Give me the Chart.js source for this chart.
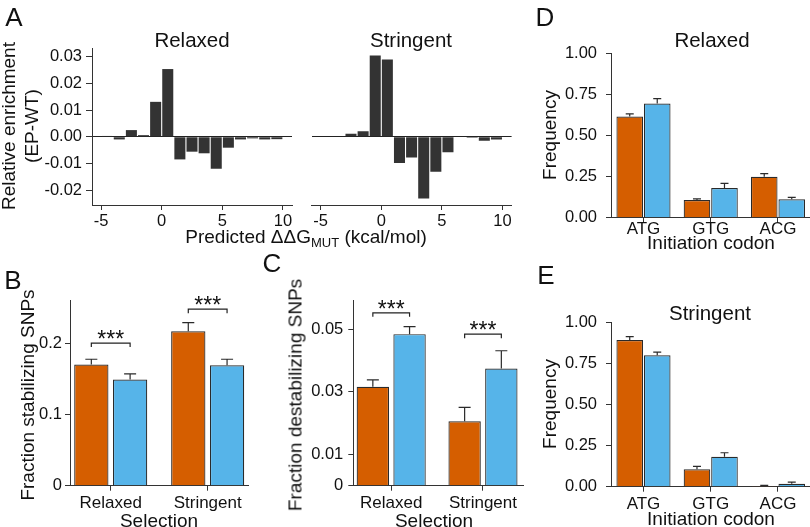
<!DOCTYPE html>
<html>
<head>
<meta charset="utf-8">
<script src="https://cdn.jsdelivr.net/npm/chart.js@4.4.1/dist/chart.umd.min.js"></script>
<style>
  body { margin: 0; background: #fff; }
  #fig { position: relative; width: 810px; height: 527px; overflow: hidden;
         font-family: "Liberation Sans", Arial, Helvetica, sans-serif; color: #111; }
  #fig canvas { position: absolute; left: 0; top: 0; }
  .t { position: absolute; white-space: nowrap; line-height: 1; transform: translate(-50%, -50%); }
  .rot { transform: translate(-50%, -50%) rotate(-90deg); }
  .let { font-size: 26px; }
  .ttl { font-size: 20.5px; }
  .ax { font-size: 19px; }
  sub { font-size: 13px; vertical-align: -4px; line-height: 0; }
</style>
</head>
<body>
<div id="fig">
  <canvas id="cAr" width="810" height="527"></canvas>
  <canvas id="cAs" width="810" height="527"></canvas>
  <canvas id="cB" width="810" height="527"></canvas>
  <canvas id="cC" width="810" height="527"></canvas>
  <canvas id="cD" width="810" height="527"></canvas>
  <canvas id="cE" width="810" height="527"></canvas>

  <div class="t let" style="left:14px;top:17px">A</div>
  <div class="t let" style="left:13px;top:280px">B</div>
  <div class="t let" style="left:272px;top:263px">C</div>
  <div class="t let" style="left:545px;top:17px">D</div>
  <div class="t let" style="left:546px;top:275px">E</div>

  <div class="t ttl" style="left:192px;top:40px">Relaxed</div>
  <div class="t ttl" style="left:411px;top:40px">Stringent</div>
  <div class="t ttl" style="left:712px;top:40px">Relaxed</div>
  <div class="t ttl" style="left:710px;top:313px">Stringent</div>

  <div class="t ax rot" style="left:20px;top:126px;line-height:22.5px;text-align:center">Relative enrichment<br>(EP-WT)</div>
  <div class="t ax" style="left:306px;top:236px">Predicted &Delta;&Delta;G<sub>MUT</sub> (kcal/mol)</div>
  <div class="t ax rot" style="left:27px;top:395px">Fraction stabilizing SNPs</div>
  <div class="t ax" style="left:159px;top:520px">Selection</div>
  <div class="t ax rot" style="left:295px;top:395px">Fraction destabilizing SNPs</div>
  <div class="t ax" style="left:434px;top:520px">Selection</div>
  <div class="t ax rot" style="left:549px;top:135px">Frequency</div>
  <div class="t ax" style="left:711px;top:242px">Initiation codon</div>
  <div class="t ax rot" style="left:549px;top:404px">Frequency</div>
  <div class="t ax" style="left:711px;top:518px">Initiation codon</div>
</div>

<script>
// ---- data ----
const ddgBins = [-4.5, -3.5, -2.5, -1.5, -0.5, 0.5, 1.5, 2.5, 3.5, 4.5, 5.5, 6.5, 7.5, 8.5, 9.5];
const enrichRelaxed = [0.0003, -0.001, 0.0025, 0.0006, 0.0131, 0.0254, -0.0085, -0.0056, -0.0062, -0.012, -0.0041, -0.001, -0.0006, -0.001, -0.0009];
const enrichStringent = [0.0002, 0, 0.0011, 0.0021, 0.0305, 0.029, -0.0098, -0.0078, -0.0232, -0.0131, -0.0058, 0, -0.0004, -0.0015, -0.001];
const ddgTicks = [-5, 0, 5, 10];
const enrichTicks = [-0.02, -0.01, 0, 0.01, 0.02, 0.03];

const selGroups = ['Relaxed', 'Stringent'];
const stabOrange = [0.170, 0.2166];
const stabOrangeHi = [0.1773, 0.2286];
const stabBlue = [0.149, 0.169];
const stabBlueHi = [0.1567, 0.1773];
const stabSig = [0.2, 0.2476];
const stabTicks = [0, 0.1, 0.2];

const destabOrange = [0.0316, 0.0206];
const destabOrangeHi = [0.0338, 0.025];
const destabBlue = [0.0484, 0.0374];
const destabBlueHi = [0.0508, 0.0431];
const destabSig = [0.0552, 0.0484];
const destabTicks = [0, 0.01, 0.03, 0.05];

const codons = ['ATG', 'GTG', 'ACG'];
const relOrange = [0.615, 0.1075, 0.249];
const relOrangeHi = [0.631, 0.114, 0.268];
const relBlue = [0.694, 0.18, 0.1116];
const relBlueHi = [0.724, 0.209, 0.124];
const strOrange = [0.894, 0.106, 0.004];
const strOrangeHi = [0.915, 0.124, 0.008];
const strBlue = [0.801, 0.183, 0.018];
const strBlueHi = [0.821, 0.207, 0.028];
const freqTicks = [0, 0.25, 0.5, 0.75, 1];

// ---- styling ----
const FONT = '"Liberation Sans", Arial, Helvetica, sans-serif';
const NUMFONT = { family: FONT, size: 16.5 };
const CATFONT = { family: FONT, size: 17 };
const AX = '#333';
const TXT = '#111';
const ORANGE = '#D55E00';
const BLUE = '#56B4E9';
const W = 810, H = 527, YW = 50, XH = 34;

function pad(a) {
  return { left: a.l - YW, top: a.t, right: W - a.r, bottom: H - a.b - XH };
}
function fixY(s) { s.width = YW; s.paddingTop = s.paddingBottom = s.paddingLeft = s.paddingRight = 0; }
function fixX(s) { s.height = XH; s.paddingTop = s.paddingBottom = s.paddingLeft = s.paddingRight = 0; }
function setTicks(list) { return s => { s.ticks = list.map(v => ({ value: v })); }; }

function xAxis(min, max, ticks, fmt, tp = 2, font = NUMFONT) {
  return {
    type: 'linear', min, max, offset: false,
    afterBuildTicks: setTicks(ticks),
    afterFit: fixX,
    border: { display: true, color: AX, width: 1 },
    grid: { offset: false, drawOnChartArea: false, tickLength: 5, tickColor: AX },
    ticks: { color: TXT, font, padding: tp, maxRotation: 0, autoSkip: false, callback: fmt }
  };
}
function yAxis(min, max, ticks, fmt, tp = 3, opts = {}) {
  return Object.assign({
    type: 'linear', min, max,
    afterBuildTicks: setTicks(ticks),
    afterFit: fixY,
    border: { display: true, color: AX, width: 1 },
    grid: { drawOnChartArea: false, tickLength: 5, tickColor: AX },
    ticks: { color: TXT, font: NUMFONT, padding: tp, autoSkip: false, callback: fmt }
  }, opts);
}

// upper error bars, drawn on top of the bars
function errPlugin(his, capHalf) {
  return {
    id: 'errbars',
    afterDatasetsDraw(chart) {
      const ctx = chart.ctx, ys = chart.scales.y;
      ctx.save();
      ctx.strokeStyle = '#2a2a2a';
      ctx.lineWidth = 1.2;
      his.forEach((hi, d) => {
        chart.getDatasetMeta(d).data.forEach((bar, j) => {
          const yt = ys.getPixelForValue(hi[j]);
          ctx.beginPath();
          ctx.moveTo(bar.x, bar.y);
          ctx.lineTo(bar.x, yt);
          ctx.moveTo(bar.x - capHalf, yt);
          ctx.lineTo(bar.x + capHalf, yt);
          ctx.stroke();
        });
      });
      ctx.restore();
    }
  };
}

// significance brackets with ***
function sigPlugin(levels) {
  return {
    id: 'sig',
    afterDatasetsDraw(chart) {
      const ctx = chart.ctx, ys = chart.scales.y;
      const a = chart.getDatasetMeta(0).data, b = chart.getDatasetMeta(1).data;
      ctx.save();
      ctx.strokeStyle = '#222';
      ctx.lineWidth = 1.2;
      ctx.fillStyle = '#111';
      ctx.font = '23px ' + FONT;
      ctx.textAlign = 'center';
      ctx.textBaseline = 'alphabetic';
      levels.forEach((lv, j) => {
        const y = ys.getPixelForValue(lv);
        const x1 = a[j].x, x2 = b[j].x;
        ctx.beginPath();
        ctx.moveTo(x1, y + 4);
        ctx.lineTo(x1, y);
        ctx.lineTo(x2, y);
        ctx.lineTo(x2, y + 4);
        ctx.stroke();
        ctx.fillText('***', (x1 + x2) / 2, y + 4);
      });
      ctx.restore();
    }
  };
}

const baseOpts = {
  responsive: false,
  animation: false,
  events: [],
  plugins: { legend: { display: false }, tooltip: { enabled: false } }
};

// ---- panel A ----
function enrichChart(id, area, vals, showY) {
  const zeroLine = c => (c.tick && c.tick.value === 0) ? '#222' : 'rgba(0,0,0,0)';
  new Chart(document.getElementById(id), {
    type: 'bar',
    data: {
      datasets: [{
        data: ddgBins.map((x, i) => ({ x, y: vals[i] })),
        backgroundColor: '#333333',
        borderWidth: 0,
        categoryPercentage: 1,
        barPercentage: 0.91
      }]
    },
    options: Object.assign({}, baseOpts, {
      layout: { padding: pad(area) },
      scales: {
        x: xAxis(-5.75, 10.75, ddgTicks, v => String(v)),
        y: yAxis(-0.0256, 0.0333, enrichTicks, v => v.toFixed(2), 4, showY ? {
          grid: { drawOnChartArea: true, color: zeroLine, lineWidth: 1, tickLength: 6, tickColor: AX }
        } : {
          border: { display: false },
          ticks: { display: false },
          grid: { drawOnChartArea: true, drawTicks: false, tickLength: 0, color: zeroLine, lineWidth: 1 }
        })
      }
    })
  });
}
enrichChart('cAr', { l: 92, t: 48, r: 292, b: 205 }, enrichRelaxed, true);
enrichChart('cAs', { l: 311.6, t: 48, r: 511.6, b: 205 }, enrichStringent, false);

// ---- grouped bar panels ----
function groupChart(id, area, cfg) {
  const mk = (vals, color) => ({
    data: vals.map((y, i) => ({ x: i + 1, y })),
    backgroundColor: color,
    borderColor: '#2a2a2a',
    borderWidth: 1.2,
    categoryPercentage: cfg.cat,
    barPercentage: cfg.bar
  });
  const plugins = [errPlugin([cfg.oHi, cfg.bHi], cfg.cap)];
  if (cfg.sig) plugins.push(sigPlugin(cfg.sig));
  new Chart(document.getElementById(id), {
    type: 'bar',
    data: { datasets: [mk(cfg.o, ORANGE), mk(cfg.b, BLUE)] },
    options: Object.assign({}, baseOpts, {
      layout: { padding: pad(area) },
      scales: {
        x: xAxis(cfg.xmin, cfg.xmax, cfg.labels.map((_, i) => i + 1), v => cfg.labels[v - 1], cfg.xpad, CATFONT),
        y: yAxis(0, cfg.ymax, cfg.yticks, cfg.yfmt, cfg.ypad)
      }
    }),
    plugins
  });
}

groupChart('cB', { l: 70, t: 300, r: 248.3, b: 485.7 }, {
  o: stabOrange, oHi: stabOrangeHi, b: stabBlue, bHi: stabBlueHi, sig: stabSig,
  labels: selGroups, xmin: 0.58, xmax: 2.419, ymax: 0.2604, yticks: stabTicks,
  yfmt: v => v === 0 ? '0' : v.toFixed(1), cat: 0.8, bar: 0.884, cap: 6, xpad: 2, ypad: 3
});
groupChart('cC', { l: 353.3, t: 300, r: 523, b: 485.7 }, {
  o: destabOrange, oHi: destabOrangeHi, b: destabBlue, bHi: destabBlueHi, sig: destabSig,
  labels: selGroups, xmin: 0.587, xmax: 2.436, ymax: 0.0593, yticks: destabTicks,
  yfmt: v => v === 0 ? '0' : v.toFixed(2), cat: 0.8, bar: 0.882, cap: 6, xpad: 2, ypad: 5
});
groupChart('cD', { l: 611, t: 53.3, r: 810, b: 217.7 }, {
  o: relOrange, oHi: relOrangeHi, b: relBlue, bHi: relBlueHi,
  labels: codons, xmin: 0.517, xmax: 3.476, ymax: 1, yticks: freqTicks,
  yfmt: v => v.toFixed(2), cat: 0.818, bar: 0.967, cap: 4, xpad: -4, ypad: 9
});
groupChart('cE', { l: 611, t: 322.7, r: 810, b: 486.7 }, {
  o: strOrange, oHi: strOrangeHi, b: strBlue, bHi: strBlueHi,
  labels: codons, xmin: 0.517, xmax: 3.476, ymax: 1, yticks: freqTicks,
  yfmt: v => v.toFixed(2), cat: 0.818, bar: 0.967, cap: 4, xpad: 2, ypad: 9
});
</script>
</body>
</html>
